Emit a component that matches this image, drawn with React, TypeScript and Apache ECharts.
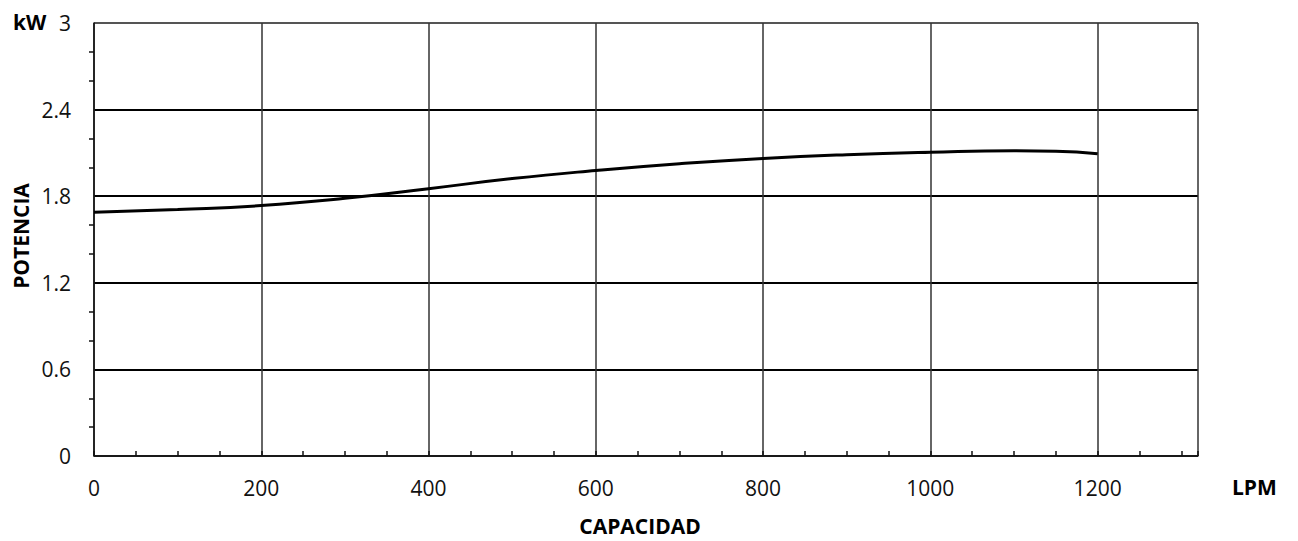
import React, { useEffect, useRef } from "react";
import * as echarts from "echarts";

const capacityLpm: number[] = [0, 100, 200, 300, 400, 500, 600, 700, 800, 900, 1000, 1100, 1150, 1200];
const powerKw: number[] = [1.688, 1.708, 1.735, 1.785, 1.852, 1.922, 1.978, 2.025, 2.062, 2.088, 2.105, 2.115, 2.112, 2.094];

const xMin = 0;
const xMax = 1320;
const xMajor = 200;
const xMinor = 50;
const yMin = 0;
const yMax = 3;
const yMajor = 0.6;

const FONT = "'Open Sans', 'Noto Sans', sans-serif";

export default function App() {
  const ref = useRef<HTMLDivElement>(null);
  useEffect(() => {
    if (!ref.current) return;
    const chart = echarts.init(ref.current, null, { renderer: "svg" });
    const data = capacityLpm.map((x, i) => [x, powerKw[i]]);
    chart.setOption({
      animation: false,
      textStyle: { fontFamily: FONT },
      grid: { left: 94, top: 23, right: 100, bottom: 85, containLabel: false },
      xAxis: [
        {
          type: "value",
          min: xMin,
          max: xMax,
          interval: xMajor,
          axisLine: { show: true, lineStyle: { color: "#222", width: 1.5 } },
          axisTick: { show: false },
          axisLabel: {
            showMaxLabel: false,
            margin: 21,
            color: "#111",
            fontSize: 21,
            fontFamily: FONT,
            formatter: (v: number) => (v > 1200 ? "" : String(v)),
          },
          splitLine: { show: true, lineStyle: { color: "#333", width: 1.5 } },
        },
        {
          type: "value",
          min: xMin,
          max: xMax,
          interval: xMinor,
          position: "bottom",
          axisLine: { show: false },
          axisTick: { show: true, inside: true, length: 5, lineStyle: { color: "#111", width: 1.5 } },
          axisLabel: { show: false },
          splitLine: { show: false },
        },
      ],
      yAxis: {
        type: "value",
        min: yMin,
        max: yMax,
        interval: yMajor,
        axisLine: { show: true, lineStyle: { color: "#111", width: 1.5 } },
        axisTick: { show: false },
        minorTick: { show: true, splitNumber: 3, length: 5, lineStyle: { color: "#111", width: 1.5 } },
        axisLabel: {
          margin: 23,
          color: "#111",
          fontSize: 21,
          fontFamily: FONT,
          formatter: (v: number) => String(Math.round(v * 10) / 10),
        },
        splitLine: { show: true, lineStyle: { color: ["#000", "#000", "#000", "#000", "#000", "#555"], width: 2 } },
      },
      series: [
        {
          type: "line",
          data,
          smooth: true,
          showSymbol: false,
          lineStyle: { color: "#000", width: 3 },
          xAxisIndex: 0,
        },
      ],
      graphic: [
        {
          type: "text",
          left: 13,
          top: 11,
          style: { text: "kW", fontSize: 21, fontWeight: "bold", fontFamily: FONT, fill: "#000" },
        },
        {
          type: "text",
          x: 1232,
          y: 487,
          style: { text: "LPM", fontSize: 21, fontWeight: "bold", fontFamily: FONT, fill: "#000", align: "left", verticalAlign: "middle" },
        },
        {
          type: "text",
          x: 640,
          y: 526,
          style: { text: "CAPACIDAD", fontSize: 21, fontWeight: "bold", fontFamily: FONT, fill: "#000", align: "center", verticalAlign: "middle" },
        },
        {
          type: "text",
          x: 21,
          y: 236,
          rotation: Math.PI / 2,
          style: { text: "POTENCIA", fontSize: 21, fontWeight: "bold", fontFamily: FONT, fill: "#000", align: "center", verticalAlign: "middle" },
        },
      ],
    });
    return () => chart.dispose();
  }, []);
  return (
    <div
      ref={ref}
      style={{ position: "fixed", left: 0, top: 0, width: 1298, height: 541, background: "#fff" }}
    />
  );
}
